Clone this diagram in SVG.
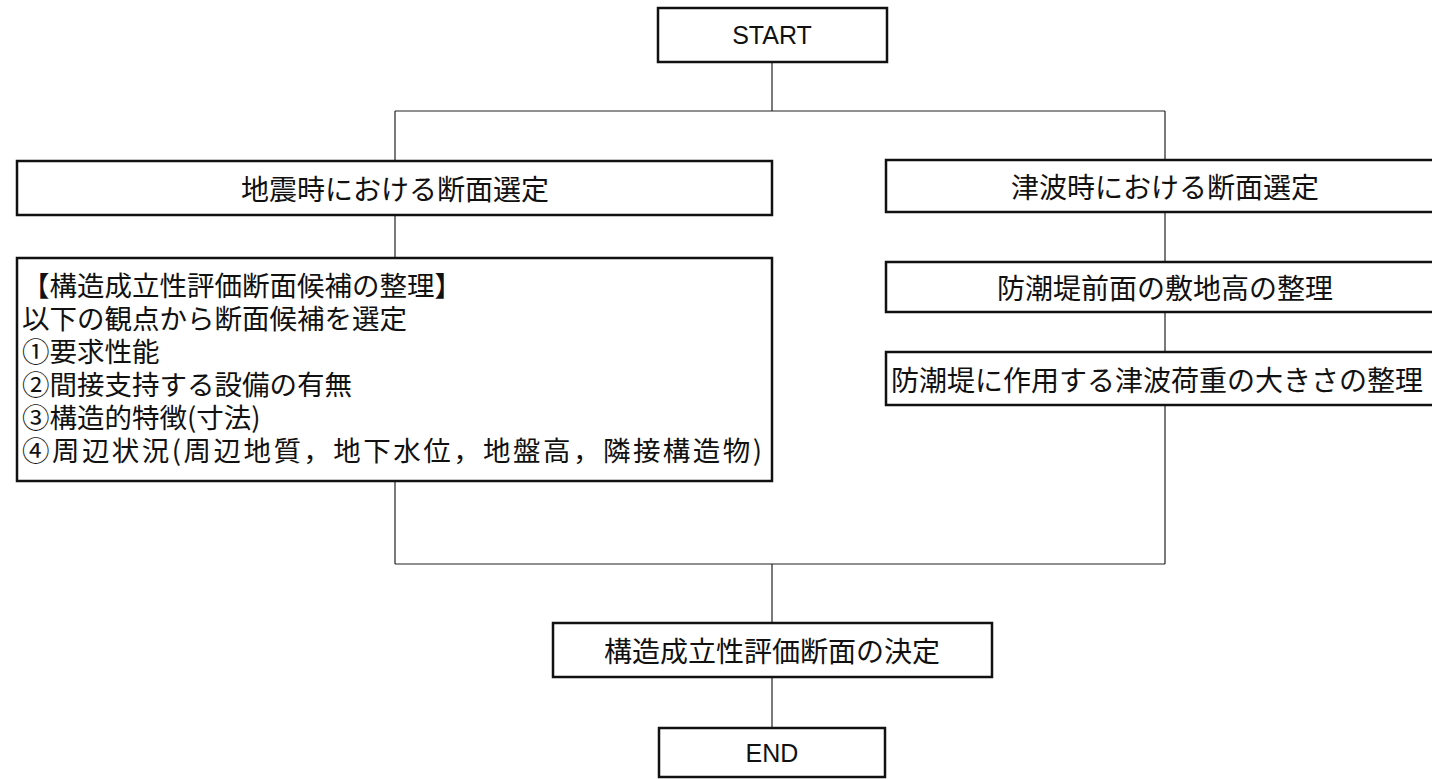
<svg xmlns="http://www.w3.org/2000/svg" width="1432" height="779" viewBox="0 0 1432 779">
<style>
.box{fill:#fff;stroke:#111;stroke-width:2.5}
.t{font-family:"Noto Sans CJK JP","Noto Sans",sans-serif;font-size:28px;fill:#111}
.s{font-size:27.5px}
.c{text-anchor:middle;dominant-baseline:central}
.en{font-family:"Liberation Sans",Arial,sans-serif;font-size:25px;fill:#111;text-anchor:middle;dominant-baseline:central}
.ln{fill:none;stroke:#222;stroke-width:1.2}
</style>
<rect width="1432" height="779" fill="#fff"/>
<g id="connectors">
<path class="ln" d="M772 62V111M395 111H1165M395 111V161M1165 111V160M395 215V258M1165 212V262M1165 312V352M395 481V564M1165 405V564M395 564H1165M772 564V623M772 677V728"/>
</g>
<g id="start">
<rect class="box" x="658" y="8" width="229" height="54"/>
<text class="en" x="772" y="35">START</text>
</g>
<g id="eq-select">
<rect class="box" x="17" y="161" width="755" height="54"/>
<text class="t c" x="395" y="188">地震時における断面選定</text>
</g>
<g id="ts-select">
<rect class="box" x="886" y="160" width="560" height="52"/>
<text class="t c" x="1165" y="186">津波時における断面選定</text>
</g>
<g id="candidates">
<rect class="box" x="17" y="258" width="755" height="223"/>
<text class="t s" x="22" y="284" dominant-baseline="central">【構造成立性評価断面候補の整理】</text>
<text class="t s" x="22" y="317" dominant-baseline="central">以下の観点から断面候補を選定</text>
<text class="t s" x="22" y="350" dominant-baseline="central">①要求性能</text>
<text class="t s" x="22" y="383" dominant-baseline="central">②間接支持する設備の有無</text>
<text class="t s" x="22" y="416" dominant-baseline="central">③構造的特徴(寸法)</text>
<text class="t s" x="22" y="449" dominant-baseline="central" textLength="740" lengthAdjust="spacing">④周辺状況(周辺地質，地下水位，地盤高，隣接構造物)</text>
</g>
<g id="ground-height">
<rect class="box" x="886" y="262" width="560" height="50"/>
<text class="t c" x="1165" y="287">防潮堤前面の敷地高の整理</text>
</g>
<g id="tsunami-load">
<rect class="box" x="886" y="352" width="560" height="53"/>
<text class="t c" x="1157" y="379">防潮堤に作用する津波荷重の大きさの整理</text>
</g>
<g id="decision">
<rect class="box" x="553" y="623" width="439" height="54"/>
<text class="t c" x="772" y="650">構造成立性評価断面の決定</text>
</g>
<g id="end">
<rect class="box" x="659" y="728" width="226" height="49"/>
<text class="en" x="772" y="753">END</text>
</g>
</svg>
